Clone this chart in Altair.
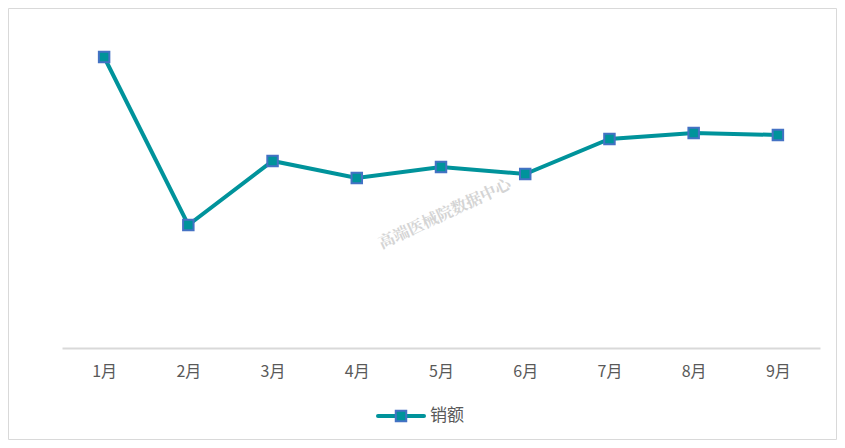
import altair as alt
import pandas as pd

months = ["1月", "2月", "3月", "4月", "5月", "6月", "7月", "8月", "9月"]
sales = [291, 123, 187, 170, 181, 174, 209, 215, 213]
series_name = "销额"
watermark = "高端医械院数据中心"

LINE = "#00939B"
EDGE = "#4472C4"
FONT = "Noto Sans CJK SC"

df = pd.DataFrame({"month": months, "value": sales})

W, H = 758, 300
PL, PT, PR, PB = 54, 40, 17, 92

x = alt.X("month:O", sort=months, scale=alt.Scale(type="point", padding=0.5),
          axis=alt.Axis(title=None, labelAngle=0, labelFontSize=16, labelColor="#595959",
                        labelFont=FONT, labelPadding=15, ticks=False, domainColor="#D9D9D9",
                        domainWidth=2, grid=False))
y = alt.Y("value:Q", scale=alt.Scale(domain=[0, 300]), axis=None)

base = alt.Chart(df)
line = base.mark_line(color=LINE, strokeWidth=4).encode(x=x, y=y)
pts = base.mark_point(shape="square", filled=True, size=110, color=LINE,
                      stroke=EDGE, strokeWidth=2, opacity=1).encode(x=x, y=y)

leg_df = pd.DataFrame({"name": [series_name]})
lg = alt.Chart(leg_df)
leg_line = lg.mark_rule(color=LINE, strokeWidth=4, strokeCap="round").encode(
    x=alt.value(316), x2=alt.value(362), y=alt.value(368))
leg_pt = lg.mark_point(shape="square", filled=True, size=110, color=LINE,
                       stroke=EDGE, strokeWidth=2, opacity=1).encode(
    x=alt.value(339), y=alt.value(368))
leg_txt = lg.mark_text(align="left", baseline="middle", fontSize=17, color="#595959",
                       font=FONT).encode(x=alt.value(368), y=alt.value(368), text="name:N")

wm_df = pd.DataFrame({"t": [watermark]})
wm = alt.Chart(wm_df).mark_text(angle=335, fontSize=16, fontWeight="bold", color="#D4D4D4",
                                font="Noto Serif CJK SC", align="center", baseline="middle").encode(
    x=alt.value(383), y=alt.value(166), text="t:N")

border = alt.Chart(leg_df).mark_rect(fill=None, stroke="#D9D9D9", strokeWidth=1).encode(
    x=alt.value(-PL + 0.5), x2=alt.value(W + PR - 0.5), y=alt.value(-PT + 0.5), y2=alt.value(H + PB - 0.5))

chart = alt.layer(border, wm, line, pts, leg_line, leg_pt, leg_txt).properties(
    width=W, height=H, autosize=alt.AutoSizeParams(type="none"),
    padding={"left": PL, "top": PT, "right": PR, "bottom": PB},
    background="white"
).configure_view(strokeWidth=0, stroke=None)

chart.save("out.html", embed_options={"renderer": "svg", "actions": False})
